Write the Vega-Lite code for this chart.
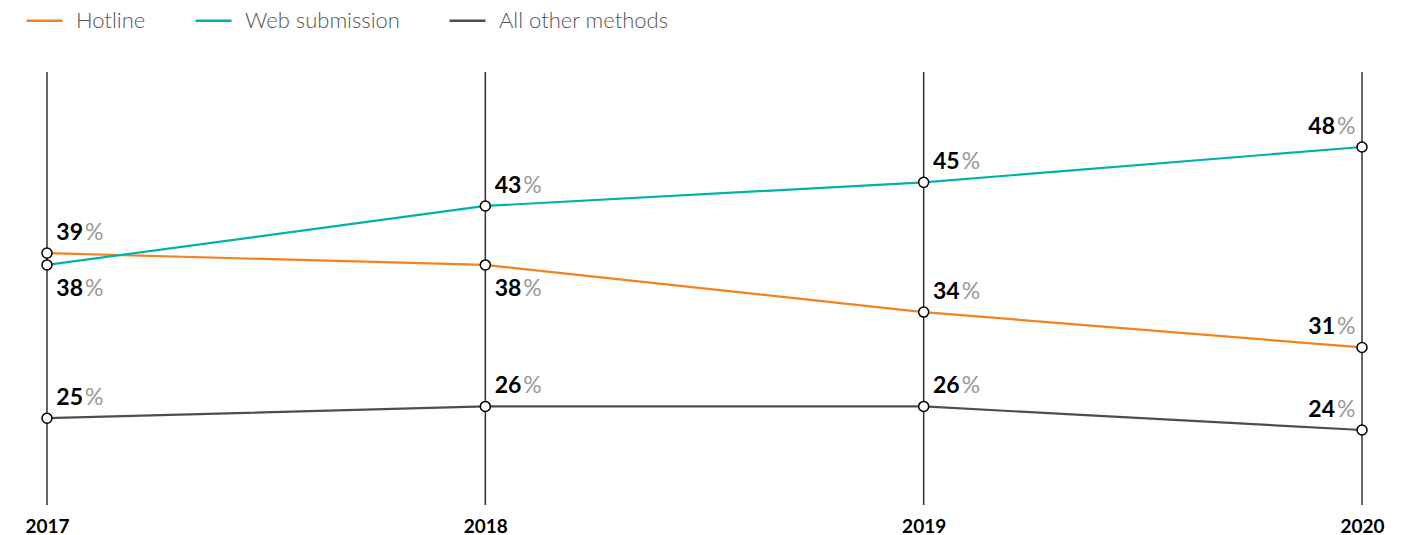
{
  "$schema": "https://vega.github.io/schema/vega-lite/v6.json",
  "width": 1315,
  "height": 433,
  "autosize": {"type": "none"},
  "padding": {"left": 47, "top": 72, "right": 58, "bottom": 30},
  "background": "white",
  "config": {"view": {"stroke": null}, "font": "Lato"},
  "data": {
    "values": [
      {"year": "2017", "method": "Hotline", "value": 39},
      {"year": "2017", "method": "Web submission", "value": 38},
      {"year": "2017", "method": "All other methods", "value": 25},
      {"year": "2018", "method": "Hotline", "value": 38},
      {"year": "2018", "method": "Web submission", "value": 43},
      {"year": "2018", "method": "All other methods", "value": 26},
      {"year": "2019", "method": "Hotline", "value": 34},
      {"year": "2019", "method": "Web submission", "value": 45},
      {"year": "2019", "method": "All other methods", "value": 26},
      {"year": "2020", "method": "Hotline", "value": 31},
      {"year": "2020", "method": "Web submission", "value": 48},
      {"year": "2020", "method": "All other methods", "value": 24}
    ]
  },
  "encoding": {
    "x": {
      "field": "year",
      "type": "ordinal",
      "scale": {"type": "point", "padding": 0},
      "axis": {
        "title": null,
        "domain": false,
        "ticks": false,
        "labelAngle": 0,
        "labelFontSize": 19,
        "labelFontWeight": "bold",
        "labelColor": "#000",
        "labelPadding": 12
      }
    }
  },
  "layer": [
    {
      "transform": [{"filter": "datum.method == 'Hotline'"}],
      "mark": {"type": "rule", "color": "#333", "strokeWidth": 1.5},
      "encoding": {}
    },
    {
      "mark": {"type": "line", "strokeWidth": 2.2},
      "encoding": {
        "y": {"field": "value", "type": "quantitative", "scale": {"domain": [17.64, 54.36], "nice": false, "zero": false}, "axis": null},
        "color": {
          "field": "method",
          "type": "nominal",
          "scale": {"domain": ["Hotline", "Web submission", "All other methods"], "range": ["#F58220", "#00B2A9", "#4D4D4F"]},
          "legend": {
            "title": null,
            "orient": "none",
            "direction": "horizontal",
            "legendX": -22,
            "legendY": -71,
            "symbolType": "stroke",
            "symbolSize": 1296,
            "symbolStrokeWidth": 2.5,
            "labelFontSize": 22,
            "labelFontWeight": 300,
            "labelColor": "#555",
            "labelOffset": 12,
            "labelLimit": 400,
            "columnPadding": 44
          }
        }
      }
    },
    {
      "mark": {"type": "point", "filled": true, "fill": "white", "stroke": "#000", "strokeWidth": 1.5, "size": 100, "opacity": 1},
      "encoding": {
        "y": {"field": "value", "type": "quantitative"}
      }
    },
    {
      "transform": [{"filter": "datum.year != '2020' && !(datum.year == '2017' && datum.method == 'Web submission') && !(datum.year == '2018' && datum.method == 'Hotline')"}],
      "layer": [
        {
          "mark": {"type": "text", "align": "right", "baseline": "alphabetic", "dx": 36, "dy": -13, "fontSize": 23, "fontWeight": "bold", "color": "#000"},
          "encoding": {"y": {"field": "value", "type": "quantitative"}, "text": {"field": "value", "type": "quantitative", "format": "d"}}
        },
        {
          "mark": {"type": "text", "align": "left", "baseline": "alphabetic", "dx": 38, "dy": -13, "fontSize": 23, "color": "#999"},
          "encoding": {"y": {"field": "value", "type": "quantitative"}, "text": {"value": "%"}}
        }
      ]
    },
    {
      "transform": [{"filter": "(datum.year == '2017' && datum.method == 'Web submission') || (datum.year == '2018' && datum.method == 'Hotline')"}],
      "layer": [
        {
          "mark": {"type": "text", "align": "right", "baseline": "alphabetic", "dx": 36, "dy": 31, "fontSize": 23, "fontWeight": "bold", "color": "#000"},
          "encoding": {"y": {"field": "value", "type": "quantitative"}, "text": {"field": "value", "type": "quantitative", "format": "d"}}
        },
        {
          "mark": {"type": "text", "align": "left", "baseline": "alphabetic", "dx": 38, "dy": 31, "fontSize": 23, "color": "#999"},
          "encoding": {"y": {"field": "value", "type": "quantitative"}, "text": {"value": "%"}}
        }
      ]
    },
    {
      "transform": [{"filter": "datum.year == '2020'"}],
      "layer": [
        {
          "mark": {"type": "text", "align": "right", "baseline": "alphabetic", "dx": -27, "dy": -13, "fontSize": 23, "fontWeight": "bold", "color": "#000"},
          "encoding": {"y": {"field": "value", "type": "quantitative"}, "text": {"field": "value", "type": "quantitative", "format": "d"}}
        },
        {
          "mark": {"type": "text", "align": "left", "baseline": "alphabetic", "dx": -25, "dy": -13, "fontSize": 23, "color": "#999"},
          "encoding": {"y": {"field": "value", "type": "quantitative"}, "text": {"value": "%"}}
        }
      ]
    }
  ]
}
